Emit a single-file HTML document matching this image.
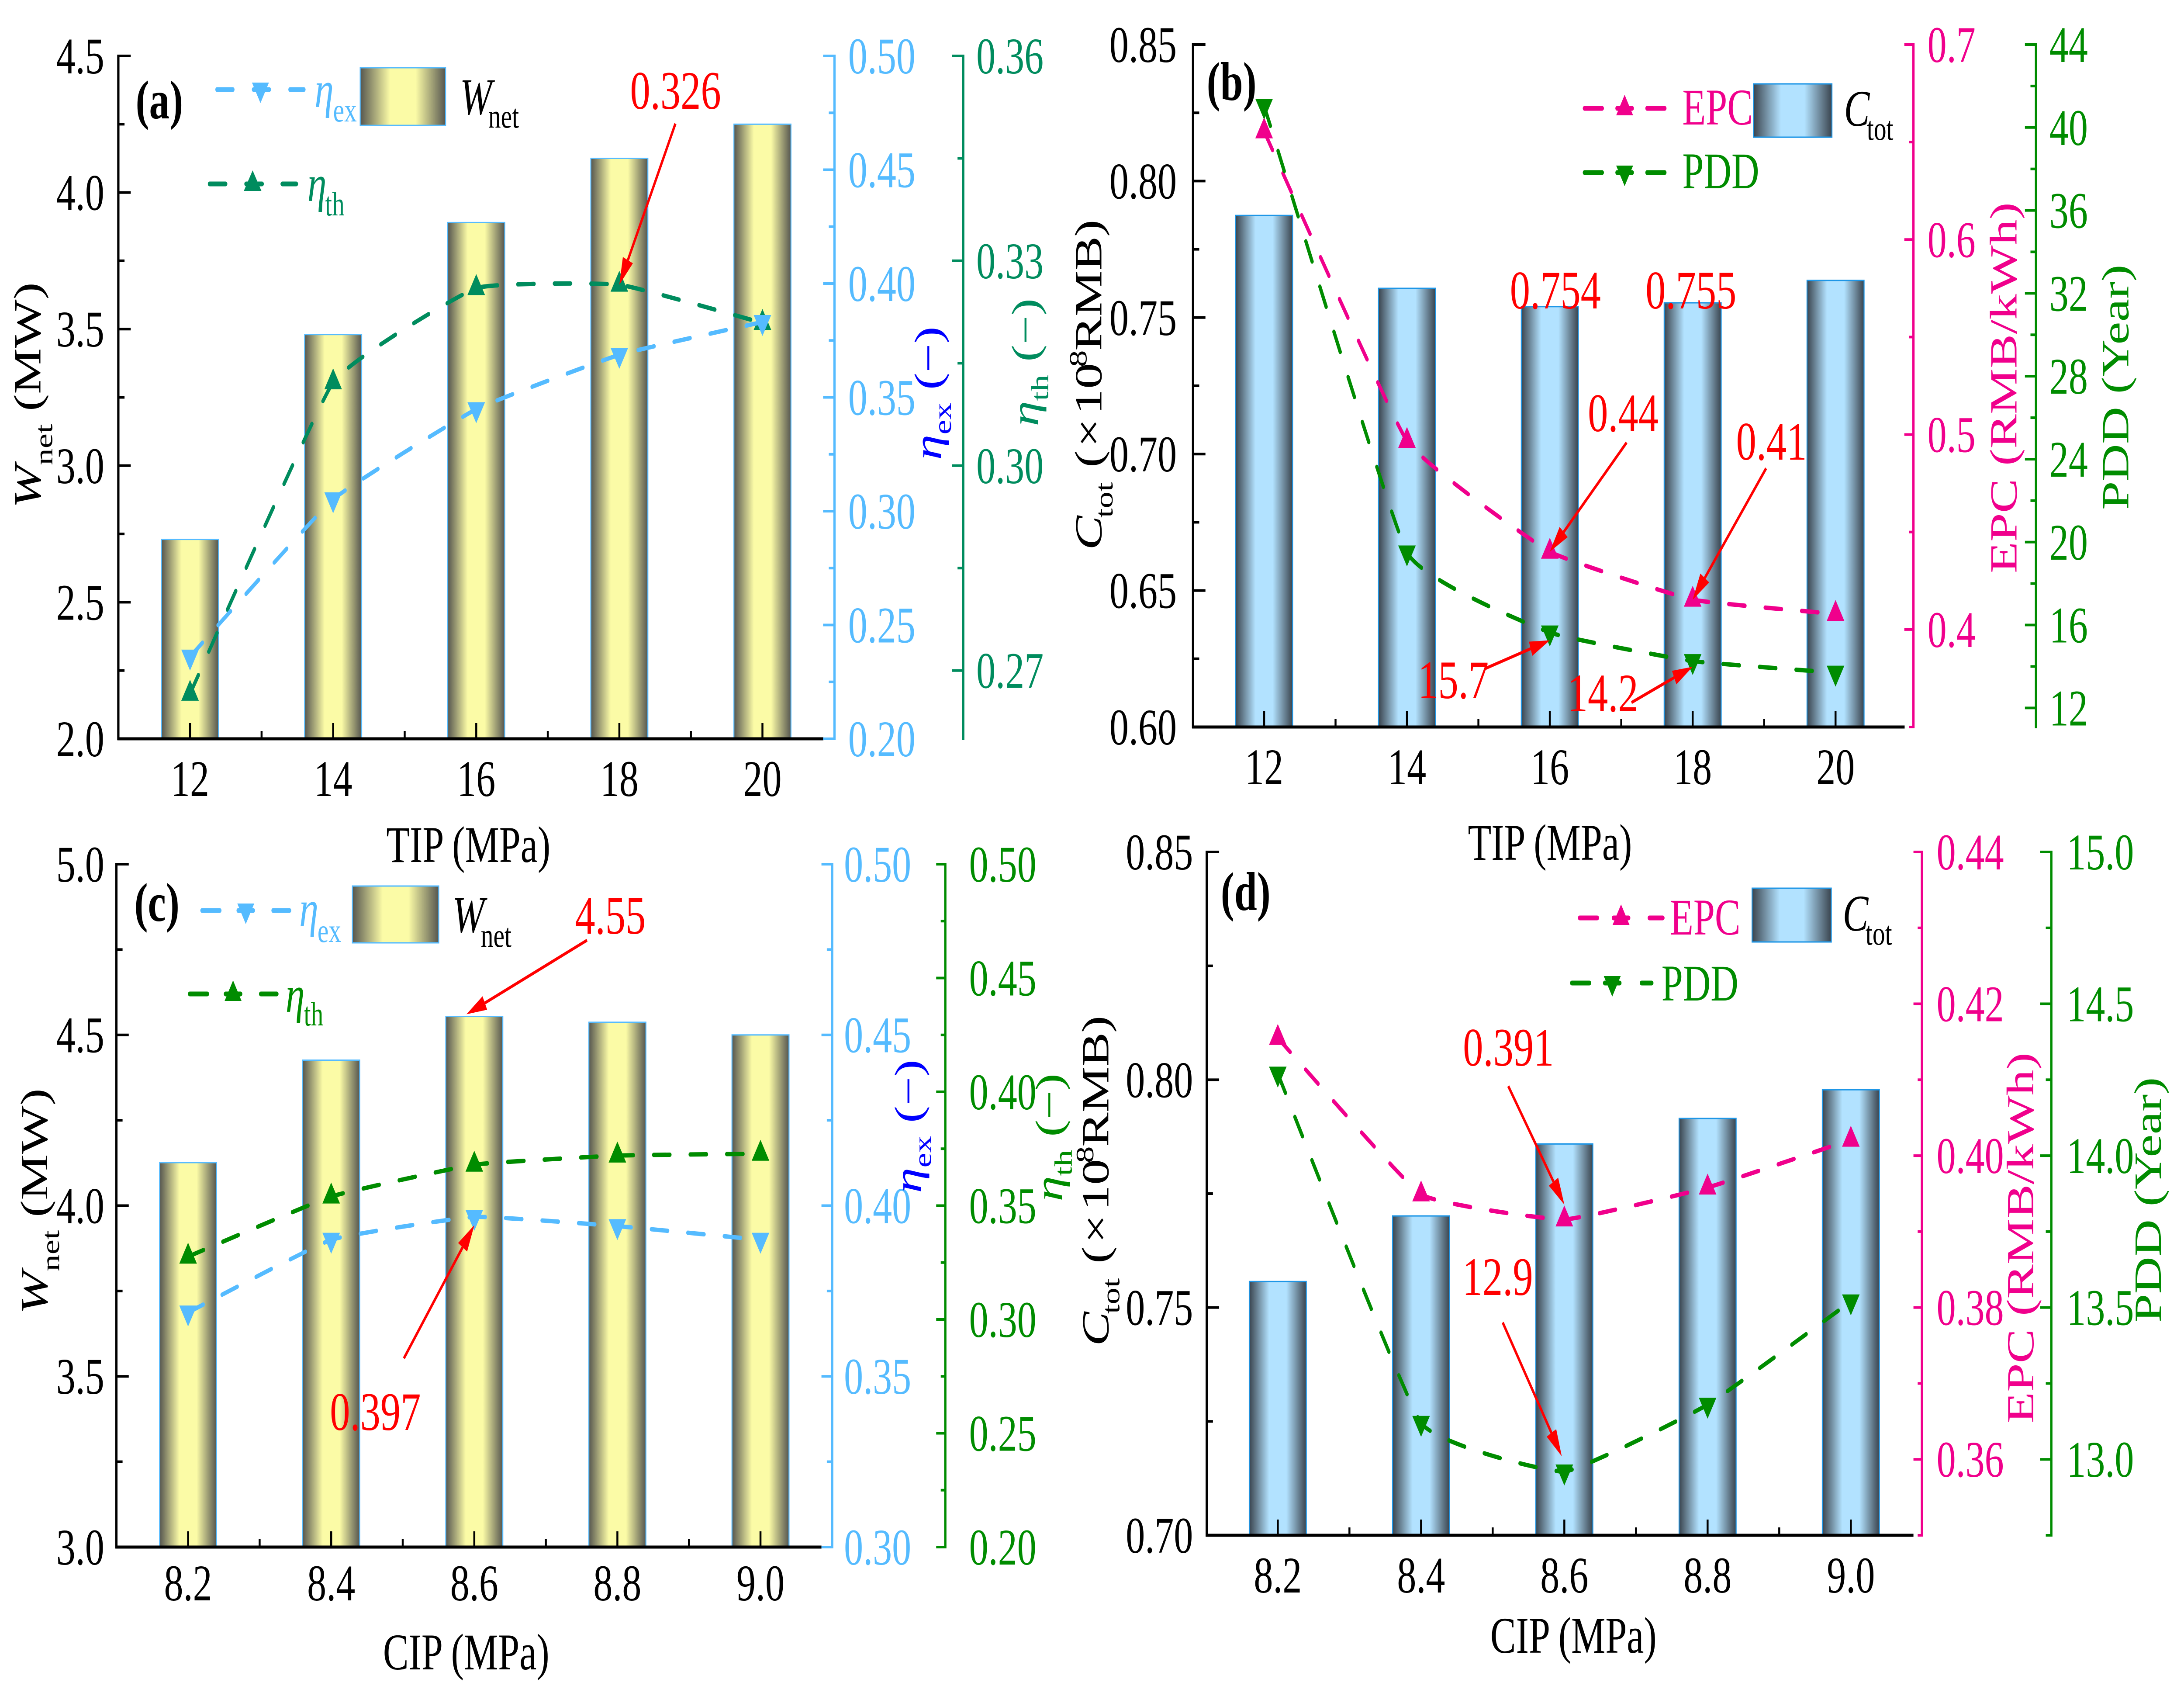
<!DOCTYPE html>
<html lang="en">
<head>
<meta charset="utf-8">
<title>Performance and economics versus TIP and CIP</title>
<style>
html,body{margin:0;padding:0;background:#fff;width:100%;height:100%;overflow:hidden;}
svg{display:block;width:100vw;height:100vh;font-family:"Liberation Serif",serif;}
text{font-family:"Liberation Serif",serif;font-size:118px;}
.i{font-style:italic;}
</style>
</head>
<body>
<svg id="chart" xmlns="http://www.w3.org/2000/svg" viewBox="0 0 6700 3875" preserveAspectRatio="none">
<defs>
<linearGradient id="yellowBar" x1="0" y1="0" x2="1" y2="0">
<stop offset="0" stop-color="#56564f"/><stop offset="0.35" stop-color="#fbfba6"/><stop offset="0.65" stop-color="#fbfba6"/><stop offset="1" stop-color="#56564f"/>
</linearGradient>
<linearGradient id="blueBar" x1="0" y1="0" x2="1" y2="0">
<stop offset="0" stop-color="#3a444e"/><stop offset="0.35" stop-color="#b2e2ff"/><stop offset="0.65" stop-color="#b2e2ff"/><stop offset="1" stop-color="#3a444e"/>
</linearGradient>
</defs>
<rect x="0" y="0" width="6700" height="3875" fill="#ffffff"/>
<g id="plots"></g>

<!-- axis titles -->
<g>
<text x="1185" y="1973">TIP (MPa)</text>
<text x="4503" y="1968">TIP (MPa)</text>
<text x="1175" y="3821">CIP (MPa)</text>
<text x="4572" y="3783">CIP (MPa)</text>

<text transform="translate(124,1163) rotate(-90)"><tspan class="i">W</tspan><tspan style="font-size:77px" dy="36">net</tspan><tspan dy="-36"> (MW)</tspan></text>
<text transform="translate(2887,1053) rotate(-90)" fill="#0000ff"><tspan class="i">η</tspan><tspan style="font-size:77px" dy="30">ex</tspan><tspan dy="-30"> (−)</tspan></text>
<text transform="translate(3185,976) rotate(-90)" fill="#008c5e"><tspan class="i">η</tspan><tspan style="font-size:77px" dy="30">th</tspan><tspan dy="-30"> (−)</tspan></text>

<text transform="translate(3379,1259) rotate(-90)"><tspan class="i" x="0">C</tspan><tspan style="font-size:77px" x="74" dy="34">tot</tspan><tspan x="189" dy="-34">(</tspan><tspan x="235">×</tspan><tspan x="310">10</tspan><tspan style="font-size:77px" x="419" dy="-46">8</tspan><tspan x="456" dy="46">RMB</tspan><tspan x="717">)</tspan></text>
<text transform="translate(6186,1312) rotate(-90)" fill="#f0008c">EPC (RMB/kWh)</text>
<text transform="translate(6529,1167) rotate(-90)" fill="#008c00">PDD (Year)</text>

<text transform="translate(145,3008) rotate(-90)"><tspan class="i">W</tspan><tspan style="font-size:77px" dy="36">net</tspan><tspan dy="-36"> (MW)</tspan></text>
<text transform="translate(2826,2731) rotate(-90)" fill="#0000ff"><tspan class="i">η</tspan><tspan style="font-size:77px" dy="30">ex</tspan><tspan dy="-30"> (−)</tspan></text>
<text transform="translate(3258,2750) rotate(-90)" fill="#008c00"><tspan class="i">η</tspan><tspan style="font-size:77px" dy="30">th</tspan><tspan dy="-30"> (−)</tspan></text>

<text transform="translate(3400,3081) rotate(-90)"><tspan class="i" x="0">C</tspan><tspan style="font-size:77px" x="74" dy="34">tot</tspan><tspan x="189" dy="-34">(</tspan><tspan x="235">×</tspan><tspan x="310">10</tspan><tspan style="font-size:77px" x="419" dy="-46">8</tspan><tspan x="456" dy="46">RMB</tspan><tspan x="717">)</tspan></text>
<text transform="translate(6238,3258) rotate(-90)" fill="#f0008c">EPC (RMB/kWh)</text>
<text transform="translate(6629,3027) rotate(-90)" fill="#008c00">PDD (Year)</text>
</g>

<!-- panel letters -->
<g>
<text x="416" y="271" style="font-size:125px;font-weight:bold">(a)</text>
<text x="3702" y="229" style="font-size:125px;font-weight:bold">(b)</text>
<text x="412" y="2108" style="font-size:125px;font-weight:bold">(c)</text>
<text x="3745" y="2083" style="font-size:125px;font-weight:bold">(d)</text>
</g>

<!-- legends -->
<g>
<line x1="666" y1="205" x2="714" y2="205" stroke="#55bbff" stroke-width="11" stroke-linecap="round"/>
<line x1="778" y1="205" x2="826" y2="205" stroke="#55bbff" stroke-width="11" stroke-linecap="round"/>
<line x1="890" y1="205" x2="932" y2="205" stroke="#55bbff" stroke-width="11" stroke-linecap="round"/>
<polygon points="773,189 825,189 799,236" fill="#55bbff"/>
<text x="965" y="245" fill="#55bbff"><tspan class="i">η</tspan><tspan style="font-size:77px" x="1022" dy="33">ex</tspan></text>
<rect x="1105" y="155" width="262" height="132" fill="url(#yellowBar)" stroke="#55bbff" stroke-width="3"/>
<text x="1411" y="261"><tspan class="i">W</tspan><tspan style="font-size:77px" x="1498" dy="31">net</tspan></text>
<line x1="643" y1="421" x2="692" y2="421" stroke="#008c5e" stroke-width="11" stroke-linecap="round"/>
<line x1="755" y1="421" x2="804" y2="421" stroke="#008c5e" stroke-width="11" stroke-linecap="round"/>
<line x1="866" y1="421" x2="909" y2="421" stroke="#008c5e" stroke-width="11" stroke-linecap="round"/>
<polygon points="748,437 802,437 775,390" fill="#008c5e"/>
<text x="943" y="460" fill="#008c5e"><tspan class="i">η</tspan><tspan style="font-size:77px" x="997" dy="33">th</tspan></text>
</g>

<g>
<line x1="4861" y1="248" x2="4915" y2="248" stroke="#f0008c" stroke-width="11" stroke-linecap="round"/>
<line x1="4961" y1="248" x2="5007" y2="248" stroke="#f0008c" stroke-width="11" stroke-linecap="round"/>
<line x1="5053" y1="248" x2="5107" y2="248" stroke="#f0008c" stroke-width="11" stroke-linecap="round"/>
<polygon points="4958,264 5010,264 4984,217" fill="#f0008c"/>
<text x="5161" y="285" fill="#f0008c">EPC</text>
<rect x="5379" y="192" width="241" height="122" fill="url(#blueBar)" stroke="#1e96e6" stroke-width="3"/>
<text x="5657" y="288"><tspan class="i">C</tspan><tspan style="font-size:77px" x="5727" dy="32">tot</tspan></text>
<line x1="4861" y1="395" x2="4915" y2="395" stroke="#008c00" stroke-width="11" stroke-linecap="round"/>
<line x1="4961" y1="395" x2="5007" y2="395" stroke="#008c00" stroke-width="11" stroke-linecap="round"/>
<line x1="5053" y1="395" x2="5107" y2="395" stroke="#008c00" stroke-width="11" stroke-linecap="round"/>
<polygon points="4958,379 5010,379 4984,426" fill="#008c00"/>
<text x="5161" y="431" fill="#008c00">PDD</text>
</g>

<g>
<line x1="620" y1="2084" x2="674" y2="2084" stroke="#55bbff" stroke-width="11" stroke-linecap="round"/>
<line x1="731" y1="2084" x2="777" y2="2084" stroke="#55bbff" stroke-width="11" stroke-linecap="round"/>
<line x1="838" y1="2084" x2="888" y2="2084" stroke="#55bbff" stroke-width="11" stroke-linecap="round"/>
<polygon points="728,2068 780,2068 754,2115" fill="#55bbff"/>
<text x="918" y="2120" fill="#55bbff"><tspan class="i">η</tspan><tspan style="font-size:77px" x="974" dy="36">ex</tspan></text>
<rect x="1081" y="2028" width="265" height="130" fill="url(#yellowBar)" stroke="#55bbff" stroke-width="3"/>
<text x="1388" y="2133"><tspan class="i">W</tspan><tspan style="font-size:77px" x="1475" dy="34">net</tspan></text>
<line x1="582" y1="2275" x2="636" y2="2275" stroke="#008c00" stroke-width="11" stroke-linecap="round"/>
<line x1="692" y1="2275" x2="738" y2="2275" stroke="#008c00" stroke-width="11" stroke-linecap="round"/>
<line x1="800" y1="2275" x2="849" y2="2275" stroke="#008c00" stroke-width="11" stroke-linecap="round"/>
<polygon points="689,2291 741,2291 715,2244" fill="#008c00"/>
<text x="876" y="2316" fill="#008c00"><tspan class="i">η</tspan><tspan style="font-size:77px" x="932" dy="31">th</tspan></text>
</g>

<g>
<line x1="4846" y1="2101" x2="4900" y2="2101" stroke="#f0008c" stroke-width="11" stroke-linecap="round"/>
<line x1="4950" y1="2101" x2="4996" y2="2101" stroke="#f0008c" stroke-width="11" stroke-linecap="round"/>
<line x1="5060" y1="2101" x2="5101" y2="2101" stroke="#f0008c" stroke-width="11" stroke-linecap="round"/>
<polygon points="4947,2117 4999,2117 4973,2070" fill="#f0008c"/>
<text x="5123" y="2139" fill="#f0008c">EPC</text>
<rect x="5375" y="2033" width="243" height="123" fill="url(#blueBar)" stroke="#1e96e6" stroke-width="3"/>
<text x="5653" y="2130"><tspan class="i">C</tspan><tspan style="font-size:77px" x="5723" dy="32">tot</tspan></text>
<line x1="4822" y1="2250" x2="4876" y2="2250" stroke="#008c00" stroke-width="11" stroke-linecap="round"/>
<line x1="4923" y1="2250" x2="4969" y2="2250" stroke="#008c00" stroke-width="11" stroke-linecap="round"/>
<line x1="5036" y1="2250" x2="5067" y2="2250" stroke="#008c00" stroke-width="11" stroke-linecap="round"/>
<polygon points="4920,2234 4972,2234 4946,2281" fill="#008c00"/>
<text x="5097" y="2290" fill="#008c00">PDD</text>
</g>
<g id="annotations"></g>
</svg>

<script>
// ---- data ----
const tipCategories = ['12', '14', '16', '18', '20'];
const cipCategories = ['8.2', '8.4', '8.6', '8.8', '9.0'];

const aWnet = [2.73, 3.48, 3.89, 4.125, 4.25];
const aEtaEx = [0.2361, 0.3052, 0.3448, 0.3687, 0.3831];
const aEtaTh = [0.2666, 0.3122, 0.326, 0.3265, 0.3209];

const bCtot = [0.7874, 0.7607, 0.754, 0.7554, 0.7636];
const bEpc = [0.6555, 0.4967, 0.4399, 0.4153, 0.408];
const bPdd = [41.05, 19.5, 15.64, 14.26, 13.7];

const cWnet = [4.126, 4.426, 4.554, 4.537, 4.5];
const cEtaEx = [0.3687, 0.39, 0.3967, 0.394, 0.39];
const cEtaTh = [0.3276, 0.354, 0.368, 0.372, 0.3728];

const dCtot = [0.7557, 0.7701, 0.7859, 0.7915, 0.7978];
const dEpc = [0.4155, 0.3949, 0.3916, 0.3958, 0.4021];
const dPdd = [14.27, 13.12, 12.96, 13.18, 13.52];

const aLeftTicks = ['2.0', '2.5', '3.0', '3.5', '4.0', '4.5'];
const aExTicks = ['0.20', '0.25', '0.30', '0.35', '0.40', '0.45', '0.50'];
const aThTicks = ['0.27', '0.30', '0.33', '0.36'];
const bLeftTicks = ['0.60', '0.65', '0.70', '0.75', '0.80', '0.85'];
const bEpcTicks = ['0.4', '0.5', '0.6', '0.7'];
const bPddTicks = ['12', '16', '20', '24', '28', '32', '36', '40', '44'];
const cLeftTicks = ['3.0', '3.5', '4.0', '4.5', '5.0'];
const cExTicks = ['0.30', '0.35', '0.40', '0.45', '0.50'];
const cThTicks = ['0.20', '0.25', '0.30', '0.35', '0.40', '0.45', '0.50'];
const dLeftTicks = ['0.70', '0.75', '0.80', '0.85'];
const dEpcTicks = ['0.36', '0.38', '0.40', '0.42', '0.44'];
const dPddTicks = ['13.0', '13.5', '14.0', '14.5', '15.0'];

// ---- helpers ----
const NS = 'http://www.w3.org/2000/svg';
const BLUE = '#55bbff', TEAL = '#008c5e', GREEN = '#008c00', PINK = '#f0008c', RED = '#ff0000';
function add(parent, tag, attrs) {
  const el = document.createElementNS(NS, tag);
  for (const k in attrs) el.setAttribute(k, attrs[k]);
  parent.appendChild(el);
  return el;
}
function linear(d0, d1, r0, r1) {
  return function (v) { return r0 + (v - d0) * (r1 - r0) / (d1 - d0); };
}
// low-tension spline: nearly straight between points, slight bend at each point
function smoothPath(pts) {
  let d = 'M' + pts[0][0] + ',' + pts[0][1];
  for (let i = 0; i < pts.length - 1; i++) {
    const p0 = pts[Math.max(0, i - 1)], p1 = pts[i], p2 = pts[i + 1], p3 = pts[Math.min(pts.length - 1, i + 2)];
    const c1x = p1[0] + (p2[0] - p0[0]) / 18, c1y = p1[1] + (p2[1] - p0[1]) / 18;
    const c2x = p2[0] - (p3[0] - p1[0]) / 18, c2y = p2[1] - (p3[1] - p1[1]) / 18;
    d += 'C' + c1x + ',' + c1y + ' ' + c2x + ',' + c2y + ' ' + p2[0] + ',' + p2[1];
  }
  return d;
}
function drawBars(g, cats, values, xs, ys, fill, edge, baseY, id) {
  values.forEach(function (v, i) {
    const top = ys(v);
    const bar = add(g, 'rect', { x: xs(i) - 87.5, y: top, width: 175, height: baseY - top, fill: fill, stroke: edge, 'stroke-width': 3 });
    
    
  });
}
function drawSeries(g, values, xs, ys, color, kind, id, cats) {
  const pts = values.map(function (v, i) { return [xs(i), ys(v)]; });
  const path = add(g, 'path', { d: smoothPath(pts), fill: 'none', stroke: color, 'stroke-width': 10, 'stroke-dasharray': '50 62', 'stroke-linecap': 'round' });
  
  
  pts.forEach(function (p, i) {
    const x = p[0], y = p[1];
    const shape = kind === 'down'
      ? [x - 27, y - 16, x + 27, y - 16, x, y + 32]
      : [x - 27, y + 16, x + 27, y + 16, x, y - 32];
    const m = add(g, 'polygon', { points: shape.join(' '), fill: color });
    
    
  });
}
function minorValues(labels, lo, hi) {
  const nums = labels.map(parseFloat);
  const step = nums[1] - nums[0];
  const out = [];
  nums.forEach(function (v) {
    [v - step / 2, v + step / 2].forEach(function (m) {
      if (m >= lo - 1e-9 && m <= hi + 1e-9 && out.every(function (o) { return Math.abs(o - m) > 1e-9; })) out.push(m);
    });
  });
  return out;
}
// dir = +1 ticks point right, -1 ticks point left
function drawYAxis(g, o) {
  const ys = o.scale;
  const spine = add(g, 'line', { x1: o.x, x2: o.x, y1: ys(o.hi) - 3, y2: ys(o.lo) + 3, stroke: o.color, 'stroke-width': 7 });
  
  
  o.labels.forEach(function (lab) {
    const y = ys(parseFloat(lab));
    const t = add(g, 'line', { x1: o.x, x2: o.x + o.dir * o.major, y1: y, y2: y, stroke: o.color, 'stroke-width': 6 });
    
    
    const txt = add(g, 'text', { x: o.labelX, y: y + 40, fill: o.color, 'text-anchor': o.anchor });
    txt.textContent = lab;
    
    
  });
  minorValues(o.labels, o.lo, o.hi).forEach(function (v) {
    const y = ys(v);
    const t = add(g, 'line', { x1: o.x, x2: o.x + o.dir * o.major / 2, y1: y, y2: y, stroke: o.color, 'stroke-width': 6 });
    
    
  });
}
function drawXAxis(g, cats, xs, baseY, left, right, labelY, id) {
  const ax = add(g, 'line', { x1: left, x2: right, y1: baseY, y2: baseY, stroke: '#000', 'stroke-width': 7 });
  
  
  cats.forEach(function (c, i) {
    const x = xs(i);
    const t = add(g, 'line', { x1: x, x2: x, y1: baseY, y2: baseY - 36, stroke: '#000', 'stroke-width': 6 });
    
    
    const lab = add(g, 'text', { x: x, y: labelY, 'text-anchor': 'middle' });
    lab.textContent = c;
    
    
    if (i < cats.length - 1) {
      const m = add(g, 'line', { x1: xs(i + 0.5), x2: xs(i + 0.5), y1: baseY, y2: baseY - 18, stroke: '#000', 'stroke-width': 6 });
      
      
    }
  });
}
function annotate(text, tx, ty, sx, sy, ex, ey) {
  const g = document.getElementById('annotations');
  const label = add(g, 'text', { x: tx, y: ty, fill: RED, style: 'font-size:124px' });
  label.textContent = text;
  
  
  if (sx === null) return;
  const dx = ex - sx, dy = ey - sy, len = Math.hypot(dx, dy), ux = dx / len, uy = dy / len;
  const bx = ex - ux * 62, by = ey - uy * 62;
  const shaft = add(g, 'line', { x1: sx, y1: sy, x2: bx, y2: by, stroke: RED, 'stroke-width': 7 });
  
  
  const head = add(g, 'polygon', { points: [ex, ey, bx - uy * 17, by + ux * 17, bx + uy * 17, by - ux * 17].join(' '), fill: RED });
  
  
}

const plots = document.getElementById('plots');

// ---- panel (a) ----
const ga = add(plots, 'g', {});


const ax = linear(0, 4, 583, 2339);
const ayL = linear(2, 4.5, 1691, 128);
const ayEx = linear(0.2, 0.5, 1691, 128);
const ayTh = linear(0.26, 0.36, 1691, 128);
drawBars(ga, tipCategories, aWnet, ax, ayL, 'url(#yellowBar)', BLUE, 1691, 'wnet-a');
drawSeries(ga, aEtaTh, ax, ayTh, TEAL, 'up', 'eta-th-a', tipCategories);
drawSeries(ga, aEtaEx, ax, ayEx, BLUE, 'down', 'eta-ex-a', tipCategories);
drawXAxis(ga, tipCategories, ax, 1691, 360, 2526, 1822, 'a');
drawYAxis(ga, { id: 'wnet-a', x: 363, dir: 1, major: 38, color: '#000', labels: aLeftTicks, lo: 2, hi: 4.5, scale: ayL, labelX: 320, anchor: 'end' });
drawYAxis(ga, { id: 'eta-ex-a', x: 2560, dir: -1, major: 35, color: BLUE, labels: aExTicks, lo: 0.2, hi: 0.5, scale: ayEx, labelX: 2602, anchor: 'start' });
drawYAxis(ga, { id: 'eta-th-a', x: 2955, dir: -1, major: 35, color: TEAL, labels: aThTicks, lo: 0.26, hi: 0.36, scale: ayTh, labelX: 2995, anchor: 'start' });
annotate('0.326', 1933, 249, 2072, 283, ax(3), ayTh(aEtaTh[3]));

// ---- panel (b) ----
const gb = add(plots, 'g', {});


const bx = linear(0, 4, 3878, 5631);
const byL = linear(0.6, 0.85, 1664, 102);
const byEpc = linear(0.35, 0.7, 1664, 102);
const byPdd = linear(11.08, 44, 1664, 102);
drawBars(gb, tipCategories, bCtot, bx, byL, 'url(#blueBar)', '#1e96e6', 1664, 'ctot-b');
drawSeries(gb, bEpc, bx, byEpc, PINK, 'up', 'epc-b', tipCategories);
drawSeries(gb, bPdd, bx, byPdd, GREEN, 'down', 'pdd-b', tipCategories);
drawXAxis(gb, tipCategories, bx, 1664, 3657, 5843, 1795, 'b');
drawYAxis(gb, { id: 'ctot-b', x: 3660, dir: 1, major: 38, color: '#000', labels: bLeftTicks, lo: 0.6, hi: 0.85, scale: byL, labelX: 3610, anchor: 'end' });
drawYAxis(gb, { id: 'epc-b', x: 5870, dir: -1, major: 28, color: PINK, labels: bEpcTicks, lo: 0.35, hi: 0.7, scale: byEpc, labelX: 5913, anchor: 'start' });
drawYAxis(gb, { id: 'pdd-b', x: 6246, dir: -1, major: 34, color: GREEN, labels: bPddTicks, lo: 11.08, hi: 44, scale: byPdd, labelX: 6287, anchor: 'start' });
annotate('0.754', 4632, 706, null);
annotate('0.755', 5048, 706, null);
annotate('0.44', 4871, 987, 4990, 1013, bx(2), byEpc(bEpc[2]));
annotate('0.41', 5326, 1052, 5418, 1072, bx(3), byEpc(bEpc[3]));
annotate('15.7', 4350, 1598, 4557, 1530, bx(2), byPdd(bPdd[2]) + 18);
annotate('14.2', 4809, 1628, 5005, 1608, bx(3), byPdd(bPdd[3]) + 13);

// ---- panel (c) ----
const gc = add(plots, 'g', {});


const cx = linear(0, 4, 577, 2333);
const cyL = linear(3, 5, 3541, 1978);
const cyEx = linear(0.3, 0.5, 3541, 1978);
const cyTh = linear(0.2, 0.5, 3541, 1978);
drawBars(gc, cipCategories, cWnet, cx, cyL, 'url(#yellowBar)', BLUE, 3541, 'wnet-c');
drawSeries(gc, cEtaTh, cx, cyTh, GREEN, 'up', 'eta-th-c', cipCategories);
drawSeries(gc, cEtaEx, cx, cyEx, BLUE, 'down', 'eta-ex-c', cipCategories);
drawXAxis(gc, cipCategories, cx, 3541, 354, 2520, 3663, 'c');
drawYAxis(gc, { id: 'wnet-c', x: 357, dir: 1, major: 38, color: '#000', labels: cLeftTicks, lo: 3, hi: 5, scale: cyL, labelX: 320, anchor: 'end' });
drawYAxis(gc, { id: 'eta-ex-c', x: 2553, dir: -1, major: 33, color: BLUE, labels: cExTicks, lo: 0.3, hi: 0.5, scale: cyEx, labelX: 2589, anchor: 'start' });
drawYAxis(gc, { id: 'eta-th-c', x: 2900, dir: -1, major: 28, color: GREEN, labels: cThTicks, lo: 0.2, hi: 0.5, scale: cyTh, labelX: 2973, anchor: 'start' });
annotate('4.55', 1764, 2137, 1801, 2152, cx(2) - 24, cyL(cWnet[2]) - 5);
annotate('0.397', 1012, 3273, 1239, 3109, cx(2), cyEx(cEtaEx[2]) + 19);

// ---- panel (d) ----
const gd = add(plots, 'g', {});


const dx = linear(0, 4, 3920, 5678);
const dyL = linear(0.7, 0.85, 3514, 1950);
const dyEpc = linear(0.35, 0.44, 3514, 1950);
const dyPdd = linear(12.75, 15, 3514, 1950);
drawBars(gd, cipCategories, dCtot, dx, dyL, 'url(#blueBar)', '#1e96e6', 3514, 'ctot-d');
drawSeries(gd, dEpc, dx, dyEpc, PINK, 'up', 'epc-d', cipCategories);
drawSeries(gd, dPdd, dx, dyPdd, GREEN, 'down', 'pdd-d', cipCategories);
drawXAxis(gd, cipCategories, dx, 3514, 3699, 5870, 3645, 'd');
drawYAxis(gd, { id: 'ctot-d', x: 3702, dir: 1, major: 38, color: '#000', labels: dLeftTicks, lo: 0.7, hi: 0.85, scale: dyL, labelX: 3660, anchor: 'end' });
drawYAxis(gd, { id: 'epc-d', x: 5896, dir: -1, major: 26, color: PINK, labels: dEpcTicks, lo: 0.35, hi: 0.44, scale: dyEpc, labelX: 5941, anchor: 'start' });
drawYAxis(gd, { id: 'pdd-d', x: 6293, dir: -1, major: 34, color: GREEN, labels: dPddTicks, lo: 12.75, hi: 15, scale: dyPdd, labelX: 6340, anchor: 'start' });
annotate('0.391', 4488, 2439, 4627, 2486, dx(2), dyEpc(dEpc[2]) - 34);
annotate('12.9', 4486, 2964, 4610, 3027, dx(2) - 8, dyPdd(dPdd[2]) - 35);
</script>
</body>
</html>
